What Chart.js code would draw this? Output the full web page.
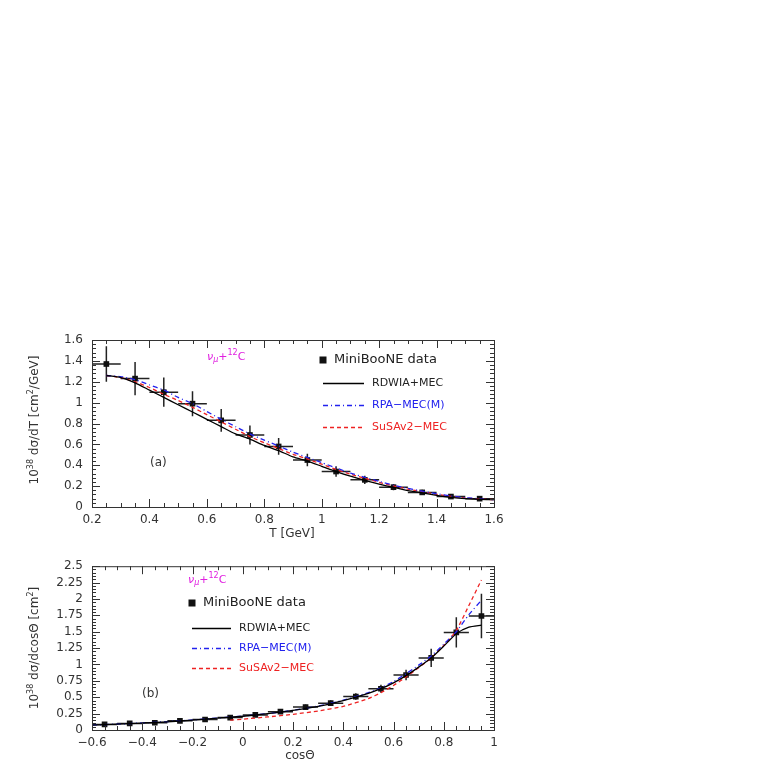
<!DOCTYPE html>
<html>
<head>
<meta charset="UTF-8">
<title>MiniBooNE nu_mu + 12C</title>
<script src="https://cdn.jsdelivr.net/npm/chart.js"></script>
<style>
  body { margin: 0; background: #fff; }
  #wrap { position: relative; width: 763px; height: 763px; }
  canvas { position: absolute; left: 0; }
</style>
</head>
<body>
<div id="wrap">
  <canvas id="top" width="763" height="250" style="top:300px"></canvas>
  <canvas id="bot" width="763" height="213" style="top:550px"></canvas>
</div>
<script>
// ---- panel (a): dsigma/dT ----
const tCenters = [0.25, 0.35, 0.45, 0.55, 0.65, 0.75, 0.85, 0.95, 1.05, 1.15, 1.25, 1.35, 1.45, 1.55];
const tData    = [1.37, 1.23, 1.10, 0.99, 0.83, 0.69, 0.58, 0.45, 0.34, 0.26, 0.19, 0.14, 0.10, 0.08];
const tErr     = [0.17, 0.16, 0.14, 0.12, 0.11, 0.09, 0.08, 0.06, 0.05, 0.04, 0.03, 0.025, 0.02, 0.015];
const tGrid  = [0.25, 0.3, 0.35, 0.4, 0.45, 0.5, 0.55, 0.6, 0.65, 0.7, 0.75, 0.8, 0.85, 0.9, 0.95, 1.0, 1.05, 1.1, 1.15, 1.2, 1.25, 1.3, 1.35, 1.4, 1.45, 1.5, 1.55, 1.6];
const tRdwia = [1.26, 1.24, 1.19, 1.12, 1.05, 0.98, 0.91, 0.84, 0.77, 0.70, 0.65, 0.59, 0.54, 0.48, 0.44, 0.39, 0.34, 0.295, 0.255, 0.22, 0.187, 0.157, 0.135, 0.112, 0.093, 0.08, 0.074, 0.07];
const tRpa   = [1.26, 1.25, 1.22, 1.17, 1.12, 1.05, 0.99, 0.915, 0.84, 0.77, 0.70, 0.64, 0.585, 0.525, 0.475, 0.425, 0.375, 0.325, 0.285, 0.245, 0.21, 0.178, 0.152, 0.127, 0.106, 0.09, 0.078, 0.07];
const tSusa  = [1.26, 1.24, 1.20, 1.145, 1.08, 1.02, 0.955, 0.885, 0.815, 0.745, 0.675, 0.615, 0.56, 0.505, 0.46, 0.41, 0.36, 0.315, 0.275, 0.237, 0.202, 0.172, 0.147, 0.122, 0.102, 0.087, 0.076, 0.07];

// ---- panel (b): dsigma/dcos ----
const cCenters = [-0.55, -0.45, -0.35, -0.25, -0.15, -0.05, 0.05, 0.15, 0.25, 0.35, 0.45, 0.55, 0.65, 0.75, 0.85, 0.95];
const cData    = [0.085, 0.10, 0.11, 0.14, 0.16, 0.19, 0.23, 0.28, 0.35, 0.41, 0.51, 0.63, 0.84, 1.10, 1.49, 1.74];
const cErr     = [0.02, 0.02, 0.02, 0.02, 0.02, 0.025, 0.03, 0.035, 0.04, 0.045, 0.05, 0.06, 0.08, 0.14, 0.23, 0.34];
const cGrid  = [-0.6, -0.5, -0.4, -0.3, -0.2, -0.1, 0, 0.1, 0.2, 0.3, 0.4, 0.5, 0.55, 0.6, 0.65, 0.7, 0.75, 0.8, 0.85, 0.9, 0.95];
const cRdwia = [0.075, 0.09, 0.105, 0.125, 0.15, 0.18, 0.21, 0.25, 0.30, 0.36, 0.45, 0.56, 0.63, 0.72, 0.83, 0.96, 1.10, 1.28, 1.47, 1.57, 1.60];
const cRpa   = [0.075, 0.09, 0.108, 0.128, 0.153, 0.183, 0.213, 0.25, 0.30, 0.365, 0.455, 0.57, 0.645, 0.74, 0.86, 0.99, 1.13, 1.31, 1.50, 1.76, 1.98];
const cSusaGrid = [-0.05, 0, 0.1, 0.2, 0.3, 0.4, 0.5, 0.55, 0.6, 0.65, 0.7, 0.75, 0.8, 0.85, 0.9, 0.95];
const cSusa  = [0.15, 0.165, 0.20, 0.24, 0.29, 0.36, 0.48, 0.57, 0.68, 0.81, 0.95, 1.10, 1.29, 1.52, 1.90, 2.29];

const FONT = '"DejaVu Sans", sans-serif';
const INK = '#333';
const MINUS = '\u2212';

function pts(xs, ys) { return xs.map((x, i) => ({ x: x, y: ys[i] })); }

// draws a run of text pieces; piece: [text, mode, italic] mode: 0 normal, 1 sup, -1 sub
function richText(ctx, parts, x, y, size, color, align) {
  ctx.save();
  ctx.fillStyle = color;
  ctx.textBaseline = 'middle';
  ctx.textAlign = 'left';
  const font = (p) => (p[2] ? 'italic ' : '') + (p[1] ? Math.round(size * 0.7) : size) + 'px ' + FONT;
  let w = 0;
  parts.forEach(p => { ctx.font = font(p); w += ctx.measureText(p[0]).width; });
  let cx = align === 'center' ? x - w / 2 : x;
  parts.forEach(p => {
    ctx.font = font(p);
    const dy = p[1] === 1 ? -size * 0.38 : (p[1] === -1 ? size * 0.3 : 0);
    ctx.fillText(p[0], cx, y + dy);
    cx += ctx.measureText(p[0]).width;
  });
  ctx.restore();
}

const frameAndTicks = {
  id: 'frameAndTicks',
  beforeDatasetsDraw(chart) {
    // error bars of the data set
    const ctx = chart.ctx, xs = chart.scales.x, ys = chart.scales.y;
    const ds = chart.data.datasets.find(d => d.errY);
    ctx.save();
    ctx.strokeStyle = '#222';
    ctx.lineWidth = 1.5;
    ds.data.forEach((p, i) => {
      const px = xs.getPixelForValue(p.x), py = ys.getPixelForValue(p.y);
      ctx.beginPath();
      ctx.moveTo(xs.getPixelForValue(p.x - ds.errX), py);
      ctx.lineTo(xs.getPixelForValue(p.x + ds.errX), py);
      ctx.moveTo(px, ys.getPixelForValue(p.y - ds.errY[i]));
      ctx.lineTo(px, ys.getPixelForValue(p.y + ds.errY[i]));
      ctx.stroke();
    });
    ctx.restore();
  },
  afterDraw(chart, args, o) {
    const ctx = chart.ctx, a = chart.chartArea, xs = chart.scales.x, ys = chart.scales.y;
    ctx.save();
    ctx.strokeStyle = INK;
    ctx.lineWidth = 1;
    ctx.strokeRect(a.left + 0.5, a.top + 0.5, a.right - a.left, a.bottom - a.top);
    ctx.beginPath();
    const n = Math.round((xs.max - xs.min) / o.xMinor);
    for (let i = 0; i <= n; i++) {
      const v = xs.min + i * o.xMinor;
      const major = Math.abs(v / o.xMajor - Math.round(v / o.xMajor)) < 1e-6;
      const L = major ? 8 : 4;
      const px = Math.round(xs.getPixelForValue(v)) + 0.5;
      ctx.moveTo(px, a.bottom); ctx.lineTo(px, a.bottom - L);
      ctx.moveTo(px, a.top); ctx.lineTo(px, a.top + L);
    }
    const m = Math.round((ys.max - ys.min) / o.yMinor);
    for (let i = 0; i <= m; i++) {
      const v = ys.min + i * o.yMinor;
      const major = Math.abs(v / o.yMajor - Math.round(v / o.yMajor)) < 1e-6;
      const L = major ? 8 : 4;
      const py = Math.round(ys.getPixelForValue(v)) + 0.5;
      ctx.moveTo(a.left, py); ctx.lineTo(a.left + L, py);
      ctx.moveTo(a.right, py); ctx.lineTo(a.right - L, py);
    }
    ctx.stroke();
    ctx.restore();

    // titles and labels
    const L = o.labels;
    richText(ctx, L.xTitle, L.xTitlePos[0], L.xTitlePos[1], 12, INK, 'center');
    ctx.save();
    ctx.translate(L.yTitlePos[0], L.yTitlePos[1]);
    ctx.rotate(-Math.PI / 2);
    richText(ctx, L.yTitle, 0, 0, 12, INK, 'center');
    ctx.restore();
    richText(ctx, [['\u03bd', 0, true], ['\u03bc', -1, true], ['+', 0], ['12', 1], ['C', 0]],
      L.nuPos[0], L.nuPos[1], 11, '#e020e0', 'left');
    richText(ctx, [[L.tag, 0]], L.tagPos[0], L.tagPos[1], 12, INK, 'left');

    // legend
    const g = L.legend;
    ctx.save();
    ctx.fillStyle = '#111';
    ctx.fillRect(g.x - 3.5, g.y0 - 3.5, 7, 7);
    ctx.restore();
    richText(ctx, [['MiniBooNE data', 0]], g.x + 11, g.y0, 13, '#222', 'left');
    const rows = [
      ['RDWIA+MEC', '#000', [], '#222'],
      ['RPA' + MINUS + 'MEC(M)', '#2222ee', [5, 3, 1, 3], '#2222ee'],
      ['SuSAv2' + MINUS + 'MEC', '#ee2222', [4, 3], '#ee2222']
    ];
    rows.forEach((r, i) => {
      const y = g.y1 + i * g.dy;
      ctx.save();
      ctx.strokeStyle = r[1];
      ctx.lineWidth = 1.3;
      ctx.setLineDash(r[2]);
      ctx.beginPath();
      ctx.moveTo(g.x, y + 0.5); ctx.lineTo(g.x + g.len, y + 0.5);
      ctx.stroke();
      ctx.restore();
      richText(ctx, [[r[0], 0]], g.tx, y, 11, r[3], 'left');
    });
  }
};

function makeChart(id, cfg) {
  const lineDs = (label, data, color, dash) => ({
    label: label, data: data, showLine: true, pointRadius: 0, borderColor: color,
    borderWidth: 1.3, borderDash: dash, fill: false, tension: 0.2
  });
  return new Chart(document.getElementById(id), {
    type: 'scatter',
    data: {
      datasets: [
        lineDs('RDWIA+MEC', cfg.rdwia, '#000', []),
        lineDs('RPA-MEC(M)', cfg.rpa, '#2222ee', [5, 3, 1, 3]),
        lineDs('SuSAv2-MEC', cfg.susa, '#ee2222', [4, 3]),
        { label: 'MiniBooNE data', data: cfg.data, errY: cfg.errY, errX: 0.05,
          pointStyle: 'rect', pointRadius: 4, backgroundColor: '#111', borderColor: '#111', borderWidth: 0 }
      ]
    },
    options: {
      responsive: false,
      animation: false,
      layout: { padding: { left: 0, right: 269, top: cfg.padTop, bottom: 0 } },
      plugins: {
        legend: { display: false }, tooltip: { enabled: false },
        frameAndTicks: cfg.frame
      },
      scales: {
        x: {
          type: 'linear', min: cfg.xMin, max: cfg.xMax,
          afterFit: s => { s.height = cfg.xH; },
          grid: { display: false, drawTicks: false }, border: { display: false },
          ticks: { stepSize: 0.2, autoSkip: false, padding: 6, color: INK,
            font: { family: FONT, size: 12 },
            callback: v => { const r = Math.round(v * 100) / 100; return (r < 0 ? MINUS : '') + Math.abs(r); } }
        },
        y: {
          min: cfg.yMin, max: cfg.yMax,
          afterFit: s => { s.width = 92; },
          grid: { display: false, drawTicks: false }, border: { display: false },
          ticks: { stepSize: cfg.yStep, autoSkip: false, padding: 9, color: INK,
            font: { family: FONT, size: 12 },
            callback: v => String(Math.round(v * 100) / 100) }
        }
      }
    },
    plugins: [frameAndTicks]
  });
}

makeChart('top', {
  rdwia: pts(tGrid, tRdwia), rpa: pts(tGrid, tRpa), susa: pts(tGrid, tSusa),
  data: pts(tCenters, tData), errY: tErr,
  xMin: 0.2, xMax: 1.6, yMin: 0, yMax: 1.6, yStep: 0.2, padTop: 40, xH: 43,
  frame: {
    xMinor: 0.05, xMajor: 0.2, yMinor: 0.04, yMajor: 0.2,
    labels: {
      xTitle: [['T [GeV]', 0]], xTitlePos: [292, 234],
      yTitle: [['10', 0], ['38', 1], [' d\u03c3/dT [cm', 0], ['2', 1], ['/GeV]', 0]], yTitlePos: [35, 120],
      nuPos: [207, 57], tag: '(a)', tagPos: [150, 163],
      legend: { x: 323, y0: 60, y1: 83, dy: 22, len: 41, tx: 372 }
    }
  }
});

makeChart('bot', {
  rdwia: pts(cGrid, cRdwia), rpa: pts(cGrid, cRpa), susa: pts(cSusaGrid, cSusa),
  data: pts(cCenters, cData), errY: cErr,
  xMin: -0.6, xMax: 1, yMin: 0, yMax: 2.5, yStep: 0.25, padTop: 13, xH: 33,
  frame: {
    xMinor: 0.05, xMajor: 0.2, yMinor: 0.05, yMajor: 0.25,
    labels: {
      xTitle: [['cos\u0398', 0]], xTitlePos: [300, 206],
      yTitle: [['10', 0], ['38', 1], [' d\u03c3/dcos\u0398 [cm', 0], ['2', 1], [']', 0]], yTitlePos: [35, 98],
      nuPos: [188, 30], tag: '(b)', tagPos: [142, 144],
      legend: { x: 192, y0: 53, y1: 78, dy: 20, len: 39, tx: 239 }
    }
  }
});
</script>
</body>
</html>
